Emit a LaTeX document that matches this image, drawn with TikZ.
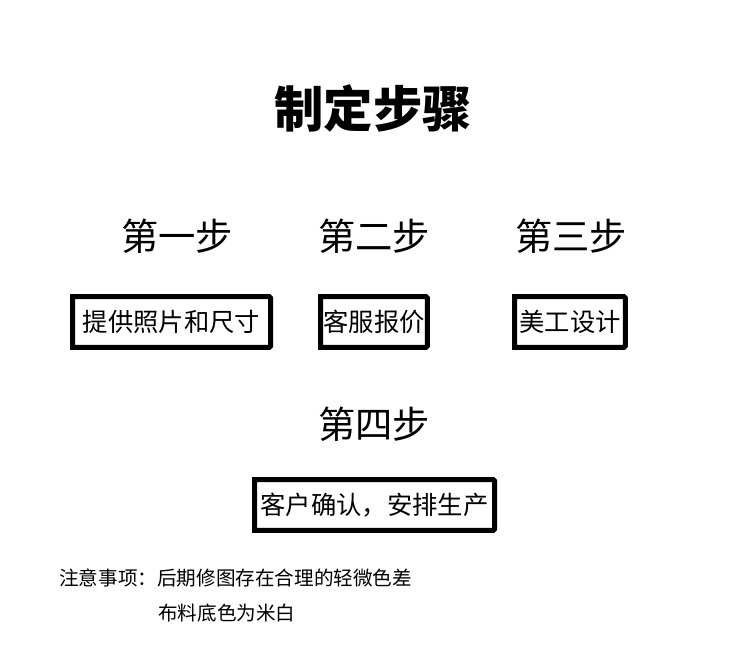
\documentclass[tikz,border=0pt]{standalone}
\usepackage{fontspec}
\setmainfont{Noto Sans CJK SC}
\usepackage{tikz}
\usetikzlibrary{positioning}
\tikzset{
  stepbox/.style={draw,line width=3.75pt,rounded corners=1pt,minimum height=38pt,inner sep=1pt,font=\fontsize{19}{19}\selectfont},
  steptitle/.style={font=\fontsize{28}{28}\selectfont},
  notetext/.style={anchor=west,inner sep=0pt,font=\fontsize{14.7}{14.7}\selectfont}
}

\begin{document}
\begin{tikzpicture}[x=0.75pt,y=-0.75pt]
        \useasboundingbox (0,0) rectangle (750,659);
        \node[font=\fontsize{37}{37}\selectfont\bfseries] (title) at (373,108) {制定步骤};
        \node[steptitle] (t1) at (177,236) {第一步};
        \node[steptitle] (t2) at (374,236) {第二步};
        \node[steptitle] (t3) at (571,236) {第三步};
        \node[steptitle] (t4) at (374,424) {第四步};
        \node[stepbox,minimum width=148.5pt] (s1) at (171.5,322) {提供照片和尺寸};
        \node[stepbox,minimum width=80pt] (s2) at (374,322) {客服报价};
        \node[stepbox,minimum width=83pt] (s3) at (570,322) {美工设计};
        \node[stepbox,minimum width=180pt] (s4) at (374.5,505) {客户确认，安排生产};
        % heavier left edge
        \foreach \b in {s1,s2,s3,s4}
          \fill (\b.north west) rectangle ([xshift=3pt]\b.south west);
        \node[notetext] (note1) at (59,578) {注意事项：后期修图存在合理的轻微色差};
        \node[notetext] (note2) at (158,613) {布料底色为米白};
      \end{tikzpicture}
\end{document}
